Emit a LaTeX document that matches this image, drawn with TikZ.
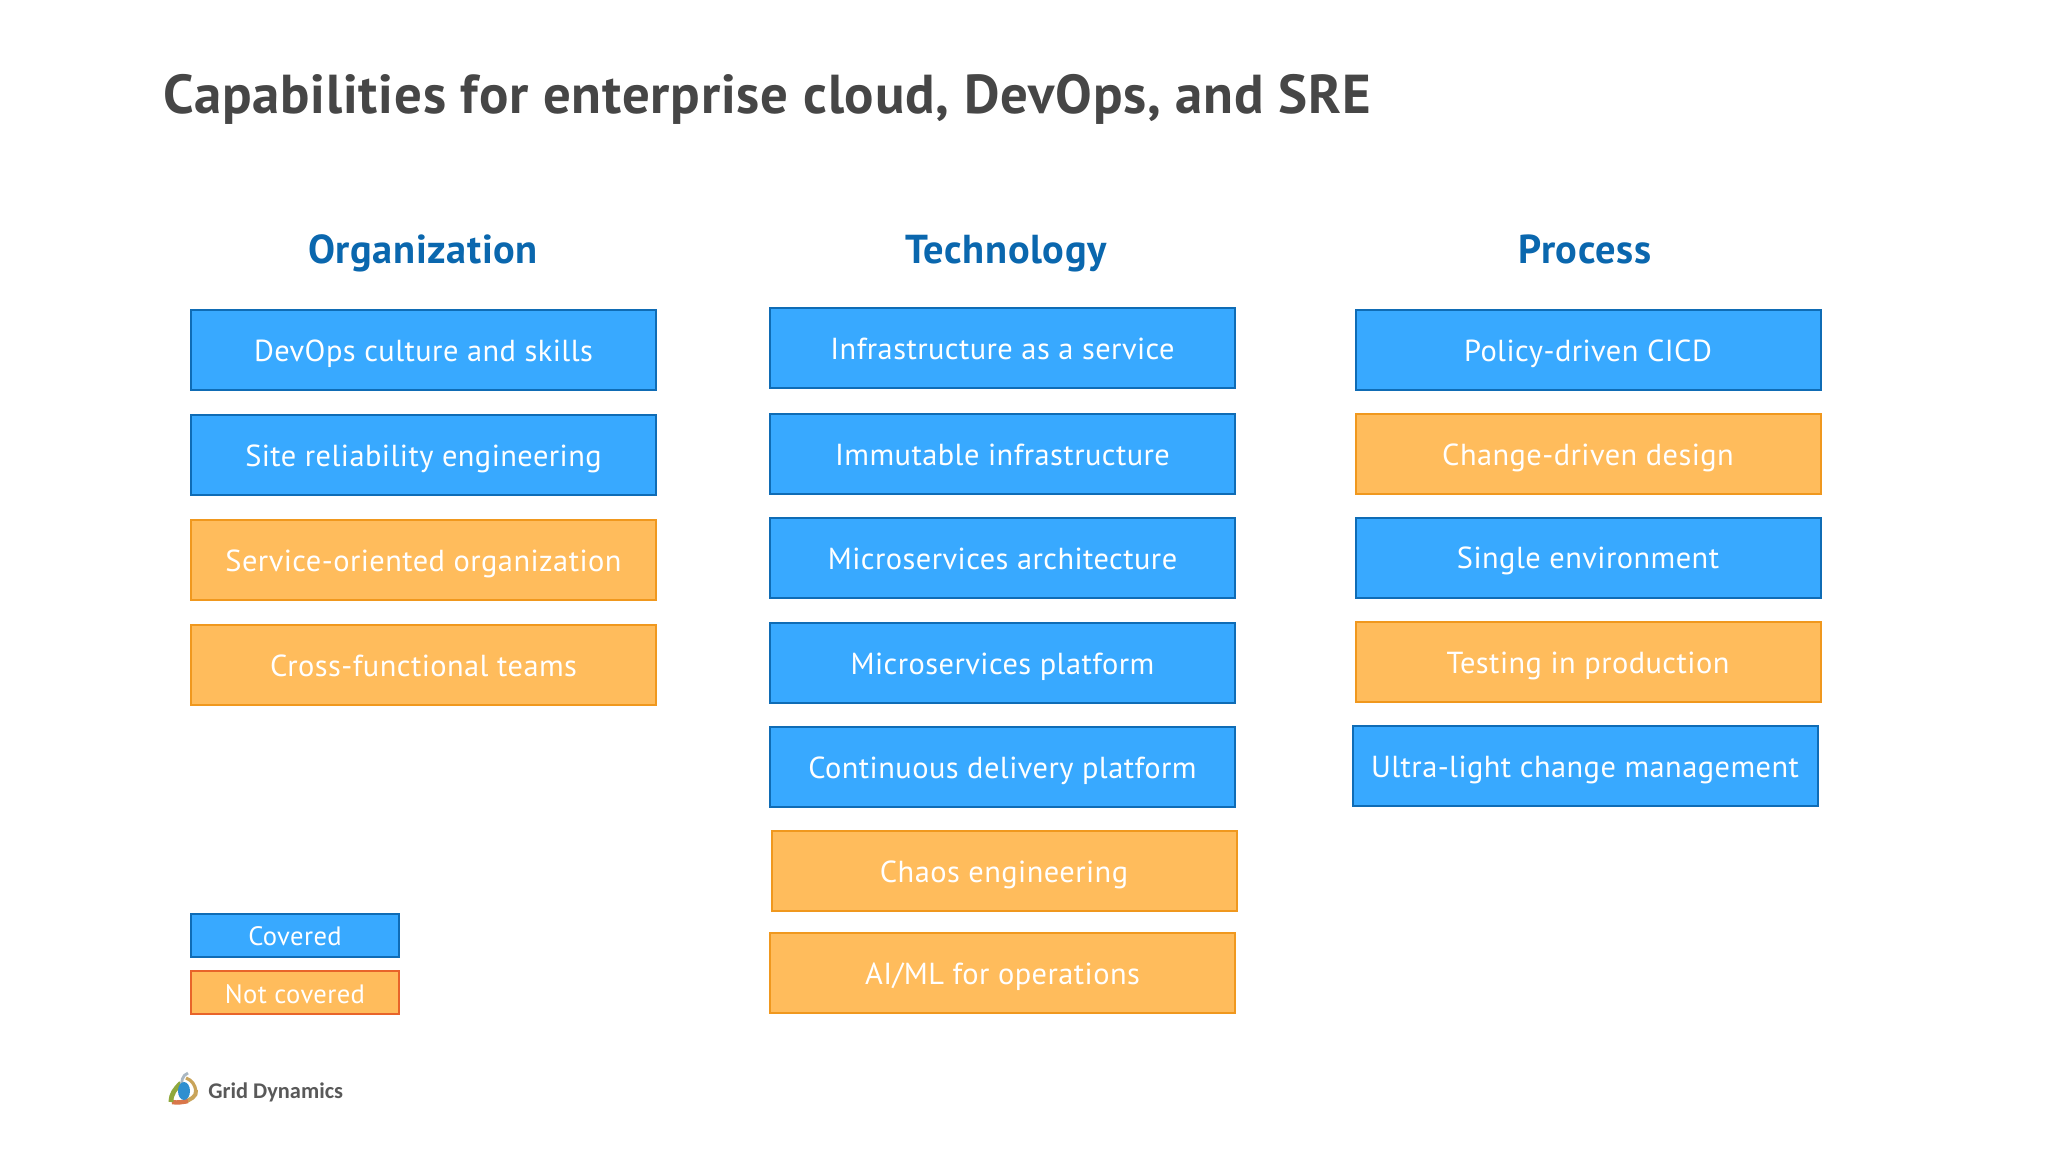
\documentclass[tikz,border=0pt]{standalone}
\usepackage{fontspec}
\setmainfont{PT Sans}[LetterSpace=1.5]
\newfontfamily\logofont{Carlito}
\definecolor{bluefill}{HTML}{38A9FF}
\definecolor{blueline}{HTML}{0F6CB5}
\definecolor{orfill}{HTML}{FFBC5C}
\definecolor{orline}{HTML}{F0981E}
\definecolor{redline}{HTML}{E8642A}
\definecolor{headc}{HTML}{0A67AE}
\definecolor{titlec}{HTML}{464646}
\definecolor{logogreen}{HTML}{8FA83C}
\definecolor{logored}{HTML}{D9764A}
\definecolor{logotan}{HTML}{C9A45A}
\definecolor{logoblue}{HTML}{2F8FD0}
\definecolor{logogrey}{HTML}{A9B7C2}
\tikzset{
  x=0.5pt,y=-0.5pt,
  capbox/.style={rectangle,line width=1pt,inner sep=0pt,outer sep=0pt,text=white,align=center,
    font=\fontsize{15.2}{20}\selectfont,minimum width=232.5pt,minimum height=40pt,text height=14pt,text depth=3pt},
  covered/.style={capbox,draw=blueline,fill=bluefill},
  uncovered/.style={capbox,draw=orline,fill=orfill},
  legendbox/.style={minimum width=104pt,minimum height=21.5pt,font=\fontsize{13.3}{18}\selectfont,text height=13.5pt,text depth=3pt},
  head/.style={text=headc,font=\fontsize{20.2}{26}\selectfont\bfseries,inner sep=0pt,text height=15pt,text depth=4pt},
}
\begin{document}
\begin{tikzpicture}
\useasboundingbox (0,0) rectangle (2048,1152);
\fill[white] (0,0) rectangle (2048,1152);
\node[anchor=west,inner sep=0pt,text=titlec,font=\fontsize{27.4}{36}\selectfont\bfseries] (title) at (163,99) {Capabilities for enterprise cloud, DevOps, and SRE};
\node[head] (h1) at (423,252.5) {Organization};
\node[head] (h2) at (1006,252.5) {Technology};
\node[head] (h3) at (1585,252.5) {Process};
% Organization
\node[covered] (o1) at (423.5,350) {DevOps culture and skills};
\node[covered] (o2) at (423.5,455) {Site reliability engineering};
\node[uncovered] (o3) at (423.5,560) {Service-oriented organization};
\node[uncovered] (o4) at (423.5,665) {Cross-functional teams};
% Technology
\node[covered] (t1) at (1002.5,348) {Infrastructure as a service};
\node[covered] (t2) at (1002.5,454) {Immutable infrastructure};
\node[covered] (t3) at (1002.5,558) {Microservices architecture};
\node[covered] (t4) at (1002.5,663) {Microservices platform};
\node[covered] (t5) at (1002.5,767) {Continuous delivery platform};
\node[uncovered] (t6) at (1004,871) {Chaos engineering};
\node[uncovered] (t7) at (1002.5,973) {AI/ML for operations};
% Process
\node[covered] (p1) at (1588,350) {Policy-driven CICD};
\node[uncovered] (p2) at (1588,454) {Change-driven design};
\node[covered] (p3) at (1588,557.5) {Single environment};
\node[uncovered] (p4) at (1588,662) {Testing in production};
\node[covered] (p5) at (1585,766) {Ultra-light change management};
% Legend
\node[covered,legendbox] (l1) at (295,935) {Covered};
\node[uncovered,legendbox,draw=redline] (l2) at (295,992.5) {Not covered};
% Logo
\draw[line width=2pt,color=logotan] (196,1090) to[out=-80,in=20] (184,1102);
\draw[line width=2.2pt,color=logored] (188,1101) to[out=190,in=-10] (172,1102);
\draw[line width=2.4pt,color=logogreen] (171,1102) to[out=90,in=225] (181,1083);
\draw[line width=1.6pt,color=logotan] (196,1091) to[out=100,in=-20] (186,1078);
\draw[line width=1.4pt,color=logogrey] (182,1088) to[out=100,in=200] (188,1073);
\fill[logoblue] (184,1091) ellipse (6 and 9);
\node[anchor=west,inner sep=0pt,text=black!65,font=\logofont\fontsize{11.2}{15}\selectfont\bfseries] (logo) at (208,1092) {Grid Dynamics};
\end{tikzpicture}
\end{document}
